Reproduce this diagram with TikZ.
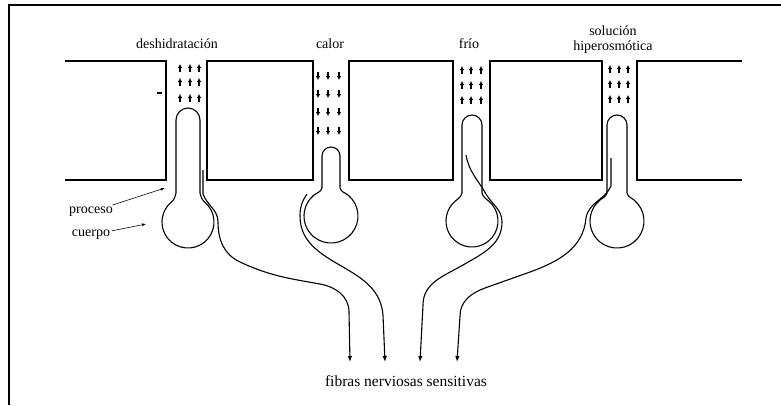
\documentclass[tikz,border=0pt]{standalone}
\usepackage{fontspec}
\setmainfont{Liberation Serif}
\newfontfamily\rotulo{Liberation Serif}
\usetikzlibrary{arrows.meta}

% neurona: x, semiancho del proceso, centro de la punta, cuello, centro del cuerpo, radio
\newcommand{\neurona}[6]{%
  \draw[tejido] (#1-#2,#4) -- (#1-#2,#3) arc[start angle=180,end angle=0,radius=#2]
    -- (#1+#2,#4) to[out=-75,in=140] ([shift={(50:#6)}]#1,#5)
    arc[start angle=50,end angle=-230,radius=#6] to[out=40,in=-105] (#1-#2,#4);}

\begin{document}
\begin{tikzpicture}[x=1pt,y=1pt,
    tejido/.style={line width=1.1pt},
    flecha/.style={-{Latex[length=4pt,width=4.5pt]},line width=1.2pt},
    fibra/.style={-{Latex[length=6pt,width=4.5pt]},line width=1.1pt},
    senal/.style={-{Latex[length=4pt,width=3pt]},line width=0.6pt},
    rotulo/.style={font=\fontsize{14}{15}\rotulo,inner sep=0pt},
    etiqueta/.style={font=\fontsize{14}{15}\rotulo,inner sep=2pt},
    pie/.style={font=\fontsize{15.5}{16}\rotulo,inner sep=0pt}]
\useasboundingbox (0,0) rectangle (781,-405);
\draw[line width=2pt] (781,-5) -- (9,-5) -- (9,-405);

% tejido
\draw[tejido] (65,-61) -- (166,-61) -- (166,-180) -- (65,-180);
\draw[tejido] (207,-61) rectangle (313,-180);
\draw[tejido] (349,-61) rectangle (453,-180);
\draw[tejido] (490,-61) rectangle (602,-180);
\draw[tejido] (742,-61) -- (637,-61) -- (637,-180) -- (742,-180);
\draw[tejido] (157,-93) -- (162,-93);

\node[rotulo] (deshid) at (177,-44) {deshidratación};
\node[rotulo] (calor) at (330,-44) {calor};
\node[rotulo] (frio) at (469,-44) {frío};
\node[rotulo,align=center] (hiper) at (613,-40) {solución\\hiperosmótica};

% estimulos en los canales
\foreach \x in {180,190,199}
  \foreach \y in {68,82,98}
    \draw[flecha] (\x,-\y-4) -- (\x,-\y+4);
\foreach \x in {318,328,339}
  \foreach \y in {76,94,112,131}
    \draw[flecha] (\x,-\y+4) -- (\x,-\y-4);
\foreach \x in {462,471,481}
  \foreach \y in {70,85,100}
    \draw[flecha] (\x,-\y-4) -- (\x,-\y+4);
\foreach \x in {610,619,628}
  \foreach \y in {69,84,99}
    \draw[flecha] (\x,-\y-4) -- (\x,-\y+4);

% neuronas
\neurona{188}{12}{-120}{-193}{-222}{26}
\neurona{331}{9}{-156}{-188}{-216}{27}
\neurona{472}{10}{-125}{-193}{-221}{26}
\neurona{617}{10}{-125}{-193}{-221}{27}

\node[etiqueta] (proceso) at (91,-212) {proceso};
\node[etiqueta] (cuerpo) at (91,-235) {cuerpo};
\coordinate (p1) at (165,-188);
\coordinate (c1) at (146,-224);
\draw[senal] (proceso) -- (p1);
\draw[senal] (cuerpo) -- (c1);

% fibras
\node[pie] (fibras) at (406,-381) {fibras nerviosas sensitivas};
\coordinate (a1) at (203,-170);
\coordinate (a2) at (307,-194);
\coordinate (a3) at (466,-155);
\coordinate (a4) at (611,-158);
\coordinate (f1) at (350,-362);
\coordinate (f2) at (385,-362);
\coordinate (f3) at (420,-362);
\coordinate (f4) at (457,-362);
\draw[fibra] (a1) -- (203,-194) to[out=-70,in=90] (218,-222)
  to[out=-90,in=155] (240,-262) to[out=-25,in=170] (320,-284)
  to[out=-10,in=90] (349,-312) -- (f1);
\draw[fibra] (a2) to[out=-125,in=90] (300,-216) to[out=-90,in=150] (343,-267)
  to[out=-30,in=95] (383,-315) -- (f2);
\draw[fibra] (a3) to[out=-80,in=120] (486,-194) to[out=-60,in=90] (502,-222)
  to[out=-90,in=30] (463,-265) to[out=-150,in=90] (423,-305) -- (f3);
\draw[fibra] (a4) -- (611,-186) to[out=-115,in=80] (586,-218)
  to[out=-95,in=20] (530,-272) -- (485,-288) to[out=-160,in=90] (460,-316) -- (f4);
\end{tikzpicture}
\end{document}
